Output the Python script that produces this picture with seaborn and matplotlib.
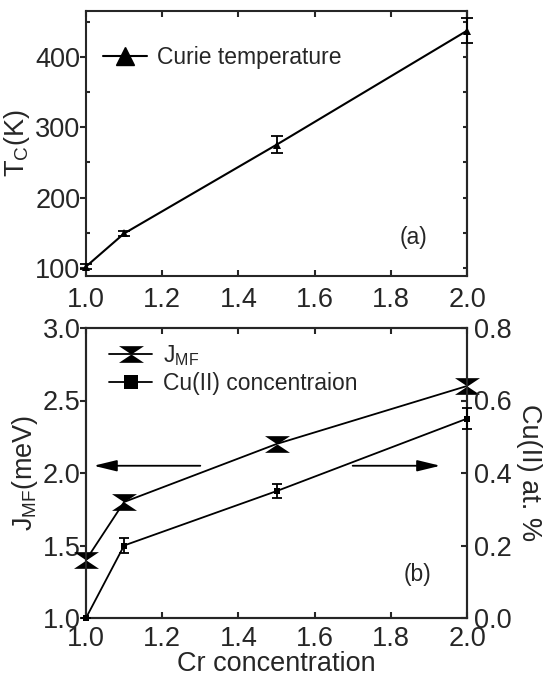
import numpy as np
import pandas as pd
import matplotlib
matplotlib.use("Agg")
import matplotlib.pyplot as plt
from matplotlib.lines import Line2D
from matplotlib.path import Path
import seaborn as sns

# ---- data ----
cr = [1.0, 1.1, 1.5, 2.0]
tc = [102, 149, 275, 437]
tc_err = [4, 3, 12, 18]
jmf = [1.4, 1.8, 2.2, 2.6]
cu = [0.0, 0.2, 0.35, 0.55]
cu_err = [0.0, 0.02, 0.02, 0.028]
x_ticks = [1.0, 1.2, 1.4, 1.6, 1.8, 2.0]

sns.set_style("ticks")
plt.rcParams['font.family'] = ['Liberation Sans', 'DejaVu Sans']
plt.rcParams['mathtext.default'] = 'regular'
plt.rcParams['axes.linewidth'] = 1.5

FS = 19.5
LFS = 16.5

fig = plt.figure(figsize=(5.44, 6.8), dpi=100)
W, H = 544, 680
ax_a = fig.add_axes([86 / W, 1 - 276 / H, 381 / W, 265 / H])
ax_b = fig.add_axes([86 / W, 1 - 618 / H, 381 / W, 290 / H])

df = pd.DataFrame({"cr": cr, "tc": tc, "jmf": jmf, "cu": cu})

# hourglass marker: two triangles meeting tip to tip
hourglass = Path(
    [(-1.5, 1), (1.5, 1), (0, 0), (-1.5, 1),
     (-1.5, -1), (1.5, -1), (0, 0), (-1.5, -1)],
    [Path.MOVETO, Path.LINETO, Path.LINETO, Path.CLOSEPOLY,
     Path.MOVETO, Path.LINETO, Path.LINETO, Path.CLOSEPOLY])

# ---- panel (a) ----
sns.lineplot(data=df, x="cr", y="tc", ax=ax_a, color="black", lw=1.5,
             marker="^", markersize=6, markeredgewidth=0, legend=False,
             clip_on=False, zorder=5)
ax_a.errorbar(cr, tc, yerr=tc_err, fmt="none", ecolor="black", elinewidth=1.3,
              capsize=4, capthick=1.3, clip_on=False, zorder=5)
ax_a.set_xlim(1.0, 2.0)
ax_a.set_ylim(88.6, 465)
ax_a.set_xticks(x_ticks)
ax_a.set_xticklabels([f"{v:.1f}" for v in x_ticks])
ax_a.set_yticks([100, 200, 300, 400])
ax_a.set_yticks([150, 250, 350, 450], minor=True)
ax_a.set_xlabel("")
ax_a.set_ylabel("T$_C$(K)", fontsize=FS, labelpad=2)
ax_a.tick_params(axis='x', which='major', direction='in', top=True, length=4,
                 width=1.5, labelsize=FS, pad=8)
ax_a.tick_params(axis='y', which='major', direction='out', length=4, width=1.5,
                 labelsize=FS, pad=0)
ax_a.tick_params(axis='y', which='minor', direction='in', length=3, width=1.5)
sec = ax_a.secondary_yaxis('right')
sec.set_yticks([100, 200, 300, 400])
sec.set_yticks([150, 250, 350, 450], minor=True)
sec.tick_params(which='both', direction='in', length=3, width=1.5, labelright=False)
for sp in ax_a.spines.values():
    sp.set_visible(True)
    sp.set_linewidth(1.5)
sec.spines['right'].set_linewidth(1.5)

h_a = [Line2D([], [], color='black', lw=1.5, marker='^', markersize=13)]
ax_a.legend(h_a, ["Curie temperature"], loc='center left',
            bbox_to_anchor=(0.045, 0.826), frameon=False, fontsize=LFS,
            handlelength=1.9, handletextpad=0.45, borderpad=0, borderaxespad=0)
ax_a.text(1.86, 143, "(a)", fontsize=LFS, ha='center', va='center')

# ---- panel (b) ----
sns.lineplot(data=df, x="cr", y="jmf", ax=ax_b, color="black", lw=1.3,
             marker=hourglass, markersize=18, markeredgewidth=0, legend=False,
             clip_on=False, zorder=5)
ax_b.set_xlim(1.0, 2.0)
ax_b.set_ylim(1.0, 3.0)
ax_b.set_xticks(x_ticks)
ax_b.set_xticklabels([f"{v:.1f}" for v in x_ticks])
ax_b.set_yticks([1.0, 1.5, 2.0, 2.5, 3.0])
ax_b.set_yticklabels(["1.0", "1.5", "2.0", "2.5", "3.0"])
ax_b.set_xlabel("Cr concentration", fontsize=FS, labelpad=-1)
ax_b.set_ylabel("J$_{MF}$(meV)", fontsize=FS, labelpad=2)
ax_b.tick_params(axis='x', which='major', direction='in', top=True, length=4,
                 width=1.5, labelsize=FS, pad=6)
ax_b.tick_params(axis='y', which='major', direction='out', length=4, width=1.5,
                 labelsize=FS, pad=0)

ax_r = ax_b.twinx()
sns.lineplot(data=df, x="cr", y="cu", ax=ax_r, color="black", lw=1.3,
             marker="s", markersize=5, markeredgewidth=0, legend=False,
             clip_on=False, zorder=5)
ax_r.errorbar(cr, cu, yerr=cu_err, fmt="none", ecolor="black", elinewidth=1.3,
              capsize=3.5, capthick=1.3, clip_on=False, zorder=5)
ax_r.set_ylim(0.0, 0.8)
ax_r.set_yticks([0.0, 0.2, 0.4, 0.6, 0.8])
ax_r.set_yticklabels(["0.0", "0.2", "0.4", "0.6", "0.8"])
ax_r.set_ylabel("Cu(II) at. %", fontsize=FS, rotation=270, labelpad=22)
ax_r.tick_params(axis='y', which='major', direction='in', length=4, width=1.5,
                 labelsize=FS, pad=5)
for sp in list(ax_b.spines.values()) + list(ax_r.spines.values()):
    sp.set_visible(True)
    sp.set_linewidth(1.5)

ax_b.annotate("", xy=(1.02, 2.05), xytext=(1.3, 2.05),
              arrowprops=dict(arrowstyle='-|>,head_length=0.7,head_width=0.17',
                              color='black', lw=1.3, mutation_scale=20,
                              shrinkA=0, shrinkB=0))
ax_b.annotate("", xy=(1.93, 2.05), xytext=(1.70, 2.05),
              arrowprops=dict(arrowstyle='-|>,head_length=0.7,head_width=0.17',
                              color='black', lw=1.3, mutation_scale=20,
                              shrinkA=0, shrinkB=0))

h_b = [Line2D([], [], color='black', lw=1.3, marker=hourglass, markersize=18,
              markeredgewidth=0),
       Line2D([], [], color='black', lw=1.3, marker='s', markersize=10,
              markeredgewidth=0)]
ax_r.legend(h_b, ["J$_{MF}$", "Cu(II) concentraion"], loc='center left',
            bbox_to_anchor=(0.06, 0.859), frameon=False, fontsize=LFS,
            handlelength=1.9, handletextpad=0.45, borderpad=0, borderaxespad=0,
            labelspacing=0.15)
ax_b.text(1.87, 1.30, "(b)", fontsize=LFS, ha='center', va='center')

fig.savefig("out.png", dpi=100)
